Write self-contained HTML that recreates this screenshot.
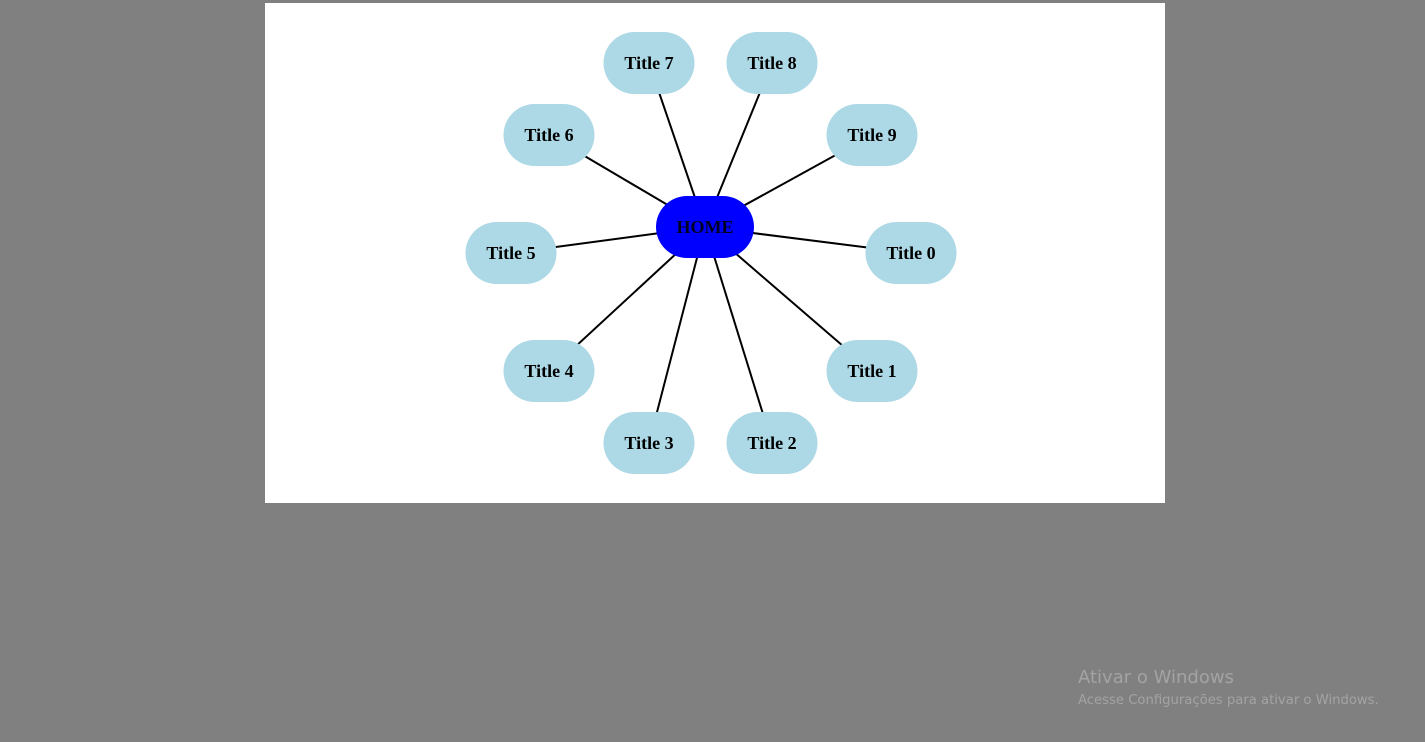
<!DOCTYPE html>
<html><head><style>
html,body{margin:0;padding:0;width:1425px;height:742px;background:#808080;overflow:hidden;font-family:"Liberation Serif",serif}
svg{position:absolute;left:0;top:0}
.w1{position:absolute;left:1078px;top:667px;color:#a3a3a3;font-family:"DejaVu Sans","Liberation Sans",sans-serif;font-size:18px}
.w2{position:absolute;left:1078px;top:693px;color:#a3a3a3;font-family:"DejaVu Sans","Liberation Sans",sans-serif;font-size:13.2px}
</style></head><body>
<svg width="1425" height="742">
<rect x="265" y="3" width="900" height="500" fill="#fff"/>
<g stroke="#000" stroke-width="2">
<line x1="705" y1="227" x2="911" y2="253"/>
<line x1="705" y1="227" x2="872" y2="371"/>
<line x1="705" y1="227" x2="772" y2="443"/>
<line x1="705" y1="227" x2="649" y2="443"/>
<line x1="705" y1="227" x2="549" y2="371"/>
<line x1="705" y1="227" x2="511" y2="253"/>
<line x1="705" y1="227" x2="549" y2="135"/>
<line x1="705" y1="227" x2="649" y2="63"/>
<line x1="705" y1="227" x2="772" y2="63"/>
<line x1="705" y1="227" x2="872" y2="135"/>
</g>
<g fill="#add8e6">
<rect x="865.5" y="222" width="91" height="62" rx="31"/>
<rect x="826.5" y="340" width="91" height="62" rx="31"/>
<rect x="726.5" y="412" width="91" height="62" rx="31"/>
<rect x="603.5" y="412" width="91" height="62" rx="31"/>
<rect x="503.5" y="340" width="91" height="62" rx="31"/>
<rect x="465.5" y="222" width="91" height="62" rx="31"/>
<rect x="503.5" y="104" width="91" height="62" rx="31"/>
<rect x="603.5" y="32" width="91" height="62" rx="31"/>
<rect x="726.5" y="32" width="91" height="62" rx="31"/>
<rect x="826.5" y="104" width="91" height="62" rx="31"/>
</g>
<rect x="656" y="196" width="98" height="62" rx="31" fill="#0000ff"/>
<g font-family="Liberation Serif,serif" font-weight="bold" font-size="18" text-anchor="middle" fill="#000">
<text x="705" y="233" fill="#000022">HOME</text>
<text x="911" y="259">Title 0</text>
<text x="872" y="377">Title 1</text>
<text x="772" y="449">Title 2</text>
<text x="649" y="449">Title 3</text>
<text x="549" y="377">Title 4</text>
<text x="511" y="259">Title 5</text>
<text x="549" y="141">Title 6</text>
<text x="649" y="69">Title 7</text>
<text x="772" y="69">Title 8</text>
<text x="872" y="141">Title 9</text>
</g>
</svg>
<div class="w1">Ativar o Windows</div>
<div class="w2">Acesse Configurações para ativar o Windows.</div>
</body></html>
